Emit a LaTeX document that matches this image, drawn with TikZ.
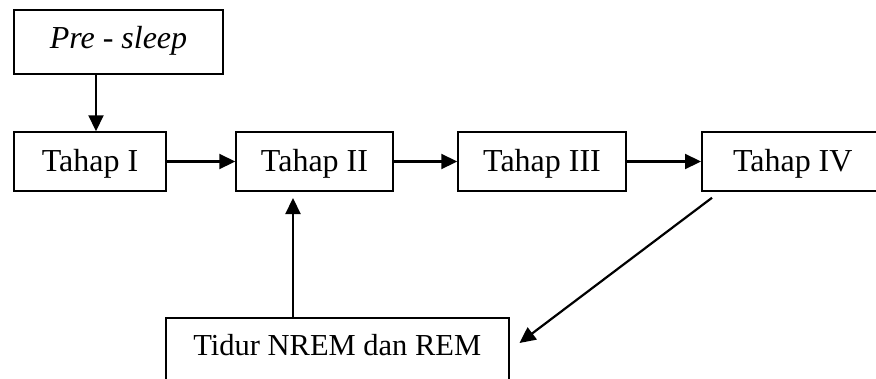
\documentclass[tikz,border=0pt]{standalone}
\usepackage{fontspec}
\setmainfont{Liberation Serif}
\usetikzlibrary{arrows.meta,calc}
\begin{document}
\begin{tikzpicture}[x=1pt,y=-1pt,
  stage/.style={draw,line width=1.5pt,inner sep=0pt,minimum height=59pt,
    text height=24pt,text depth=5pt,font=\fontsize{32}{36}\selectfont},
  arr/.style={line width=2.2pt,-{Triangle[length=16pt,width=15pt]}}]
  \useasboundingbox (0,0) rectangle (876,378);
  \clip (0,0) rectangle (876,378);
  \fill[white] (0,0) rectangle (876,378);

  % boxes
  \node[stage,minimum width=209pt,minimum height=64pt,text height=22pt,text depth=9pt]
    (pre) at (118.5,42) {\itshape Pre - sleep};
  \node[stage,minimum width=152pt] (t1) at (90,161.5) {Tahap I};
  \node[stage,minimum width=157pt] (t2) at (314.5,161.5) {Tahap II};
  \node[stage,minimum width=168pt] (t3) at (542,161.5) {Tahap III};
  \node[stage,minimum width=182pt,anchor=west] (t4) at (701,161.5) {Tahap IV};
  \node[stage,minimum width=343pt,minimum height=0pt,text height=38pt,text depth=45pt,
    anchor=north west,font=\fontsize{30.5}{34}\selectfont] (nrem) at (165,317) {Tidur NREM dan REM};

  % connectors
  \draw[arr] ([xshift=6pt]t1.north |- pre.south) -- ([xshift=6pt]t1.north);
  \draw[arr] (t1.east) -- (t2.west);
  \draw[arr] (t2.east) -- (t3.west);
  \draw[arr] (t3.east) -- (t4.west);
  \draw[arr] ($(nrem.north west)+(128,0)$) -- ($(nrem.north west)+(128,-119)$);
  \draw[arr] ($(t4.south west)+(11,6)$) -- ($(nrem.north east)+(10,26)$);
\end{tikzpicture}
\end{document}
